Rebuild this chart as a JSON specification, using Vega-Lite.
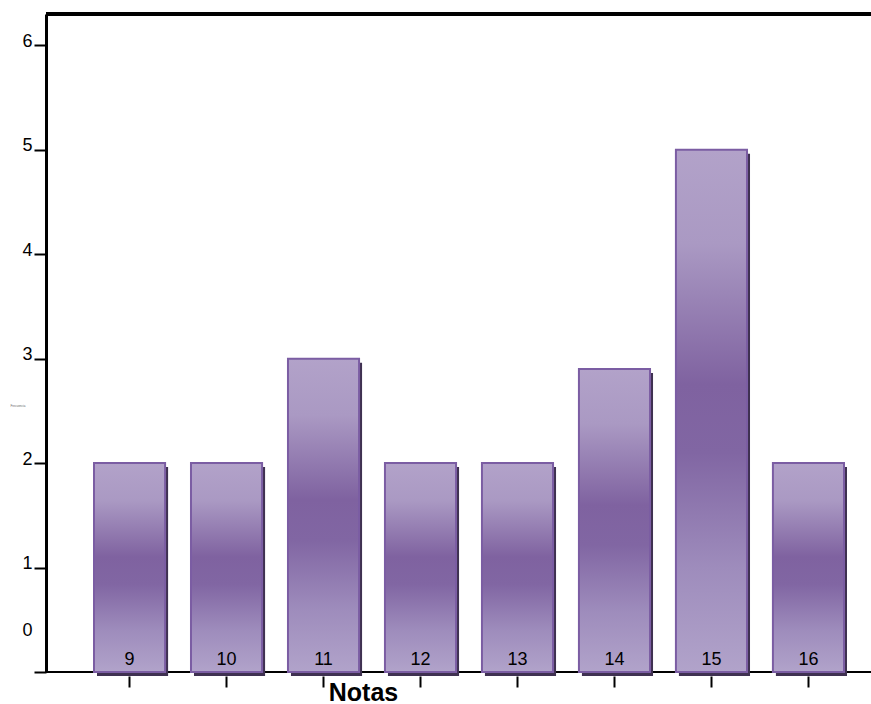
{
  "$schema": "https://vega.github.io/schema/vega-lite/v6.json",
  "autosize": {"type": "none"},
  "padding": {"left": 46, "top": 14, "right": 0, "bottom": 32},
  "width": 825,
  "height": 658,
  "background": "white",
  "config": {
    "view": {"stroke": null},
    "font": "Liberation Sans"
  },
  "data": {
    "values": [
      {"nota": 9, "frecuencia": 2},
      {"nota": 10, "frecuencia": 2},
      {"nota": 11, "frecuencia": 3},
      {"nota": 12, "frecuencia": 2},
      {"nota": 13, "frecuencia": 2},
      {"nota": 14, "frecuencia": 2.9},
      {"nota": 15, "frecuencia": 5},
      {"nota": 16, "frecuencia": 2}
    ]
  },
  "encoding": {
    "x": {
      "field": "nota",
      "type": "ordinal",
      "scale": {"range": [48, 798], "paddingInner": 0.267, "paddingOuter": 0},
      "axis": {
        "orient": "bottom",
        "offset": 4,
        "domain": false,
        "labels": false,
        "bandPosition": 0.5,
        "tickSize": 11,
        "tickWidth": 2,
        "tickColor": "black",
        "title": "Notas",
        "titleFont": "Liberation Sans",
        "titleFontSize": 25,
        "titleFontWeight": "bold",
        "titleColor": "black",
        "titleAlign": "center",
        "titleBaseline": "alphabetic",
        "titleX": 317,
        "titleY": 24
      }
    }
  },
  "layer": [
    {
      "mark": {"type": "rule", "color": "black", "strokeWidth": 2},
      "encoding": {
        "x": null,
        "y": {
          "datum": 0,
          "type": "quantitative",
          "scale": {"domain": [0, 6.3], "nice": false},
          "axis": {
            "orient": "left",
            "values": [0, 1, 2, 3, 4, 5, 6],
            "format": "d",
            "grid": false,
            "domainColor": "black",
            "domainWidth": 3,
            "tickColor": "black",
            "tickSize": 12,
            "tickWidth": 2,
            "labelFont": "Liberation Sans",
            "labelFontSize": 18,
            "labelColor": "black",
            "labelPadding": 2,
            "labelBaseline": "alphabetic",
            "labelOffset": {"condition": {"test": "datum.value == 0", "value": -37}, "value": 1},
            "title": "Frecuencia",
            "titleAngle": 0,
            "titleFontSize": 3,
            "titleFontWeight": "normal",
            "titleColor": "#666666",
            "titleAlign": "left",
            "titleBaseline": "middle",
            "titleX": -36,
            "titleY": 391
          }
        }
      }
    },
    {
      "mark": {"type": "rule", "color": "black", "strokeWidth": 3},
      "encoding": {
        "x": null,
        "y": {"datum": 6.3, "type": "quantitative"}
      }
    },
    {
      "mark": {"type": "bar", "color": "#3f3151", "xOffset": 3, "yOffset": 4, "width": {"band": 1}},
      "encoding": {
        "y": {"field": "frecuencia", "type": "quantitative"}
      }
    },
    {
      "mark": {
        "type": "bar",
        "stroke": "#7b5da3",
        "strokeWidth": 2,
        "width": {"band": 1},
        "color": {
          "gradient": "linear",
          "x1": 0, "y1": 0, "x2": 0, "y2": 1,
          "stops": [
            {"offset": 0, "color": "#b2a2c9"},
            {"offset": 0.18, "color": "#aa99c3"},
            {"offset": 0.45, "color": "#7f62a0"},
            {"offset": 0.58, "color": "#8166a3"},
            {"offset": 0.8, "color": "#9e8cbc"},
            {"offset": 1, "color": "#b1a3ca"}
          ]
        }
      },
      "encoding": {
        "y": {"field": "frecuencia", "type": "quantitative"}
      }
    },
    {
      "mark": {"type": "text", "fontSize": 18, "color": "black", "baseline": "alphabetic", "dy": -7, "font": "Liberation Sans"},
      "encoding": {
        "y": {"datum": 0, "type": "quantitative"},
        "text": {"field": "nota", "type": "ordinal"}
      }
    }
  ]
}
